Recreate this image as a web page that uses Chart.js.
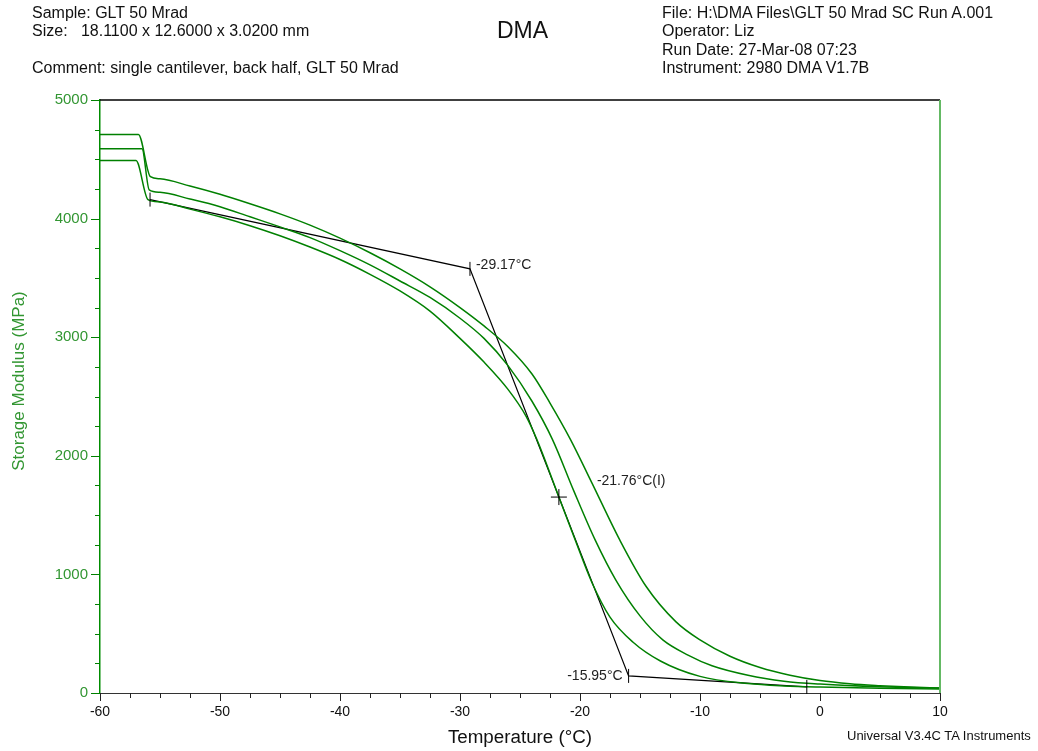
<!DOCTYPE html>
<html>
<head>
<meta charset="utf-8">
<script src="https://cdn.jsdelivr.net/npm/chart.js@4"></script>
<style>
body{margin:0;background:#fff;}
#wrap{position:relative;width:1038px;height:751px;}
canvas{position:absolute;left:0;top:0;}
.t{position:absolute;font-family:"Liberation Sans",Arial,sans-serif;font-size:16px;line-height:18px;color:#111;white-space:pre;}
</style>
</head>
<body>
<div id="wrap">
<canvas id="chart" width="1038" height="751"></canvas>
<div class="t" style="left:32px;top:4px">Sample: GLT 50 Mrad</div>
<div class="t" style="left:32px;top:22px">Size:   18.1100 x 12.6000 x 3.0200 mm</div>
<div class="t" style="left:32px;top:59px">Comment: single cantilever, back half, GLT 50 Mrad</div>
<div class="t" style="left:497px;top:17px;font-size:23px;line-height:26px">DMA</div>
<div class="t" style="left:662px;top:4px">File: H:\DMA Files\GLT 50 Mrad SC Run A.001</div>
<div class="t" style="left:662px;top:22px">Operator: Liz</div>
<div class="t" style="left:662px;top:41px">Run Date: 27-Mar-08 07:23</div>
<div class="t" style="left:662px;top:59px">Instrument: 2980 DMA V1.7B</div>
<div class="t" style="left:847px;top:727px;font-size:13px">Universal V3.4C TA Instruments</div>
</div>
<script>
// storage modulus curves (°C, MPa)
const tempHigh = [-60, -56.8, -55.8, -55, -52.5, -50, -47.5, -45, -42.5, -40, -37.5, -35, -32.5, -30, -28, -26, -24, -22.5, -20.8, -19, -16.7, -14.5, -12, -10, -7.5, -5, -2.5, 0, 2.5, 5, 7.5, 10];
const modHigh  = [4710, 4710, 4353, 4335, 4275, 4205, 4125, 4040, 3945, 3835, 3712, 3576, 3425, 3250, 3095, 2920, 2690, 2445, 2139, 1770, 1293, 900, 600, 448, 310, 215, 150, 105, 78, 62, 50, 42];

const tempMid = [-60, -56.5, -55.9, -55, -52.5, -50, -47.5, -45, -42.5, -40, -37.5, -35, -32.5, -30, -28, -26, -24, -22.3, -20.5, -18.75, -17, -15, -13.1, -11, -9, -6, -3, 0, 5, 10];
const modMid  = [4590, 4590, 4243, 4222, 4165, 4100, 4015, 3930, 3840, 3730, 3610, 3474, 3335, 3160, 2990, 2760, 2460, 2139, 1700, 1293, 950, 650, 448, 320, 230, 150, 100, 75, 52, 42];

const tempLow = [-60, -57, -56, -55, -52.5, -50, -47.5, -45, -42.5, -40, -37.5, -35, -32.5, -30, -28, -26, -24.5, -23.6, -21.76, -20.4, -19, -17.5, -15.6, -13.3, -10, -6, -3, 0, 5, 10];
const modLow  = [4490, 4490, 4160, 4140, 4080, 4015, 3940, 3855, 3760, 3655, 3530, 3390, 3220, 2990, 2790, 2560, 2335, 2139, 1652, 1290, 930, 640, 430, 270, 140, 80, 60, 50, 40, 34];

// onset / end analysis lines
const onsetTemp = [-55.83, -29.17, -15.95, -1.1];
const onsetMod  = [4160, 3576, 144, 51];
const inflTemp = -21.76, inflMod = 1652;

const xTicks = [-60, -50, -40, -30, -20, -10, 0, 10];
const yTicks = [0, 1000, 2000, 3000, 4000, 5000];

const green = 'rgb(0,128,0)';
const labelGreen = 'rgb(50,150,50)';

function pts(t, v){ return t.map((x, i) => ({x: x, y: v[i]})); }

function curve(t, v){
  return {data: pts(t, v), borderColor: green, borderWidth: 1.5, pointRadius: 0,
    cubicInterpolationMode: 'monotone', fill: false};
}

const marks = {
  id: 'marks',
  afterDraw(chart){
    const {ctx, chartArea: a, scales: {x, y}} = chart;
    ctx.save();
    // frame
    ctx.lineWidth = 1.5;
    ctx.strokeStyle = '#000';
    ctx.beginPath(); ctx.moveTo(a.left, a.top); ctx.lineTo(a.right, a.top); ctx.stroke();
    ctx.strokeStyle = 'rgb(100,185,100)';
    ctx.lineWidth = 2;
    ctx.beginPath(); ctx.moveTo(a.right, a.top); ctx.lineTo(a.right, a.bottom); ctx.stroke();
    // axis tick marks
    ctx.lineWidth = 1;
    ctx.strokeStyle = '#222';
    x.ticks.forEach(t => {
      const px = Math.round(x.getPixelForValue(t.value)) + 0.5;
      const len = xTicks.includes(t.value) ? 8 : 5;
      ctx.beginPath(); ctx.moveTo(px, a.bottom); ctx.lineTo(px, a.bottom + len); ctx.stroke();
    });
    ctx.strokeStyle = green;
    y.ticks.forEach(t => {
      const py = Math.round(y.getPixelForValue(t.value)) + 0.5;
      const len = yTicks.includes(t.value) ? 9 : 5;
      ctx.beginPath(); ctx.moveTo(a.left - len, py); ctx.lineTo(a.left, py); ctx.stroke();
    });
    // analysis ticks
    ctx.strokeStyle = '#000';
    onsetTemp.forEach((t, i) => {
      const px = x.getPixelForValue(t), py = y.getPixelForValue(onsetMod[i]);
      ctx.beginPath(); ctx.moveTo(px, py - 7); ctx.lineTo(px, py + 7); ctx.stroke();
    });
    const ix = x.getPixelForValue(inflTemp), iy = y.getPixelForValue(inflMod);
    ctx.beginPath();
    ctx.moveTo(ix - 8, iy); ctx.lineTo(ix + 8, iy);
    ctx.moveTo(ix, iy - 8); ctx.lineTo(ix, iy + 8);
    ctx.stroke();
    // labels
    ctx.fillStyle = '#222';
    ctx.font = '14px "Liberation Sans", Arial, sans-serif';
    ctx.textBaseline = 'middle';
    ctx.textAlign = 'left';
    ctx.fillText('-29.17°C', x.getPixelForValue(onsetTemp[1]) + 6, y.getPixelForValue(onsetMod[1]) - 4);
    ctx.fillText('-21.76°C(I)', ix + 38, iy - 16);
    ctx.textAlign = 'right';
    ctx.fillText('-15.95°C', x.getPixelForValue(onsetTemp[2]) - 6, y.getPixelForValue(onsetMod[2]));
    // y title
    ctx.fillStyle = labelGreen;
    ctx.font = '17px "Liberation Sans", Arial, sans-serif';
    ctx.textAlign = 'center';
    ctx.translate(19, 381);
    ctx.rotate(-Math.PI / 2);
    ctx.fillText('Storage Modulus (MPa)', 0, 0);
    ctx.restore();
  }
};

new Chart(document.getElementById('chart').getContext('2d'), {
  type: 'line',
  data: {
    datasets: [
      curve(tempHigh, modHigh),
      curve(tempMid, modMid),
      curve(tempLow, modLow),
      {data: pts(onsetTemp, onsetMod), borderColor: '#000', borderWidth: 1.2, pointRadius: 0, tension: 0, fill: false}
    ]
  },
  options: {
    responsive: false,
    animation: false,
    layout: {padding: {left: 0, top: 100, right: 98, bottom: 0}},
    plugins: {legend: {display: false}, tooltip: {enabled: false}},
    scales: {
      x: {
        type: 'linear', min: -60, max: 10,
        afterFit: s => { s.height = 58; },
        afterBuildTicks: s => { s.ticks = []; for (let v = -60; v <= 10; v += 2.5) s.ticks.push({value: v}); },
        ticks: {
          autoSkip: false, maxRotation: 0, padding: 3, color: '#111',
          font: {family: '"Liberation Sans", Arial, sans-serif', size: 14},
          callback: v => xTicks.includes(v) ? String(v) : ''
        },
        grid: {drawOnChartArea: false, tickLength: 8, color: 'rgba(0,0,0,0)'},
        border: {color: '#333', width: 1},
        title: {display: true, text: 'Temperature (°C)', color: '#111',
          font: {family: '"Liberation Sans", Arial, sans-serif', size: 18.8}, padding: {top: 0, bottom: 2}}
      },
      y: {
        min: 0, max: 5000,
        afterFit: s => { s.width = 100; },
        afterBuildTicks: s => { s.ticks = []; for (let v = 0; v <= 5000; v += 250) s.ticks.push({value: v}); },
        ticks: {
          autoSkip: false, padding: 3, color: labelGreen,
          font: {family: '"Liberation Sans", Arial, sans-serif', size: 15},
          callback: v => yTicks.includes(v) ? String(v) : ''
        },
        grid: {drawOnChartArea: false, tickLength: 9, color: 'rgba(0,0,0,0)'},
        border: {color: 'rgb(0,140,0)', width: 1.5}
      }
    }
  },
  plugins: [marks]
});
</script>
</body>
</html>
